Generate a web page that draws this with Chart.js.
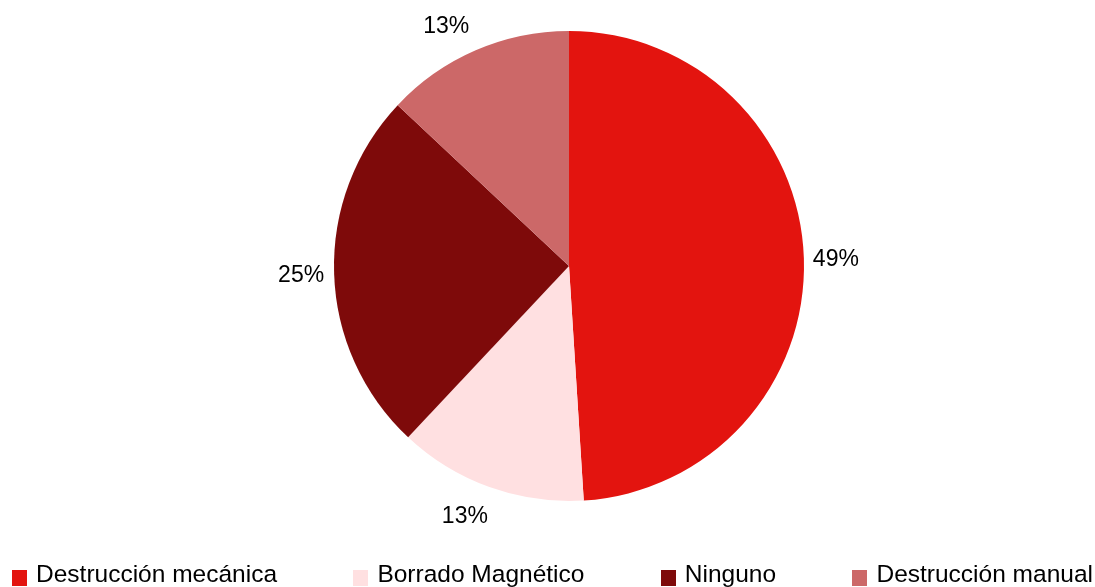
<!DOCTYPE html>
<html>
<head>
<meta charset="utf-8">
<script src="https://cdn.jsdelivr.net/npm/chart.js@4/dist/chart.umd.min.js"></script>
<style>
    html, body { margin: 0; padding: 0; background: #fff; overflow: hidden; }
    #wrap { position: relative; width: 1095px; height: 587px; }
    #pieChart { position: absolute; left: 0; top: 0; }
    #legend {
        position: absolute; left: 12px; right: 2px; top: 562px;
        display: flex; justify-content: space-between; align-items: flex-start;
        font-family: "Liberation Sans", Arial, sans-serif; font-size: 24.5px; line-height: 24.5px;
        color: #000; white-space: nowrap;
    }
    .item { display: flex; align-items: flex-start; }
    .box { width: 15px; height: 16px; margin-top: 8px; margin-right: 9px; }
</style>
</head>
<body>
<div id="wrap">
    <canvas id="pieChart" width="1095" height="587"></canvas>
    <div id="legend"></div>
</div>
<script>
// Chart data
const categories = ['Destrucción mecánica', 'Borrado Magnético', 'Ninguno', 'Destrucción manual'];
const shares = [49, 13, 25, 13];
const sliceColors = ['#E3140F', '#FFE0E1', '#7E0A0A', '#CC6868'];

// Percent labels drawn just outside each slice
const outsideLabels = {
    id: 'outsideLabels',
    afterDatasetsDraw(chart, args, opts) {
        const ctx = chart.ctx;
        const data = chart.data.datasets[0].data;
        const total = data.reduce((a, b) => a + b, 0);
        const meta = chart.getDatasetMeta(0);
        ctx.save();
        ctx.font = '23px "Liberation Sans", Arial, sans-serif';
        ctx.fillStyle = '#000';
        ctx.textAlign = 'center';
        ctx.textBaseline = 'alphabetic';
        meta.data.forEach((arc, i) => {
            const p = arc.getProps(['x', 'y', 'startAngle', 'endAngle', 'outerRadius'], true);
            const mid = (p.startAngle + p.endAngle) / 2;
            const r = p.outerRadius + opts.distance;
            const nudge = opts.nudge[i] || [0, 0];
            const tx = p.x + Math.cos(mid) * r + nudge[0];
            const ty = p.y + Math.sin(mid) * r + nudge[1];
            const txt = Math.round(data[i] / total * 100) + '%';
            ctx.fillText(txt, tx, ty + 8);
        });
        ctx.restore();
    }
};

const ctx = document.getElementById('pieChart').getContext('2d');
const chart = new Chart(ctx, {
    type: 'pie',
    data: {
        labels: categories,
        datasets: [{
            data: shares,
            backgroundColor: sliceColors,
            borderWidth: 0
        }]
    },
    options: {
        responsive: false,
        animation: false,
        devicePixelRatio: 1,
        layout: { padding: { left: 334, right: 291, top: 31, bottom: 86 } },
        plugins: {
            legend: { display: false },
            tooltip: { enabled: false },
            outsideLabels: {
                distance: 34,
                nudge: [[-2, 0], [-13, -4], [1, 0], [-16, 6]]
            }
        }
    },
    plugins: [outsideLabels]
});

// Legend row under the pie
const legendEl = document.getElementById('legend');
chart.data.labels.forEach((label, i) => {
    const item = document.createElement('div');
    item.className = 'item';
    const box = document.createElement('span');
    box.className = 'box';
    box.style.background = chart.data.datasets[0].backgroundColor[i];
    const text = document.createElement('span');
    text.textContent = label;
    item.appendChild(box);
    item.appendChild(text);
    legendEl.appendChild(item);
});
</script>
</body>
</html>
